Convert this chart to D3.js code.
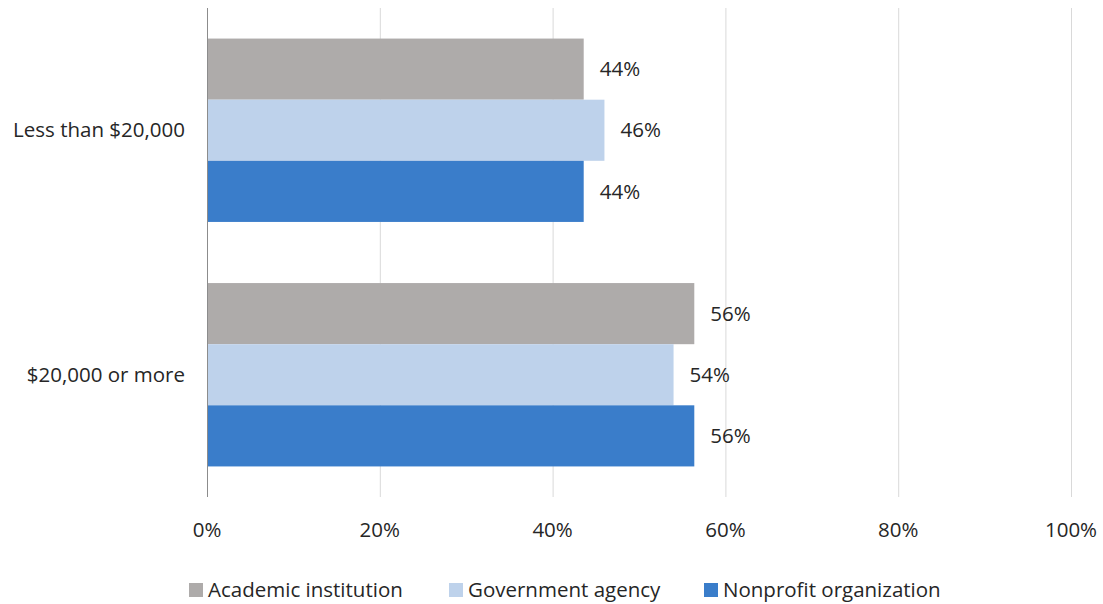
<!DOCTYPE html>
<html><head><meta charset="utf-8">
<script src="https://cdn.jsdelivr.net/npm/d3@7"></script>
<style>
html,body{margin:0;padding:0;background:#fff;}
svg{display:block;font-family:"Open Sans","Noto Sans",sans-serif;}
</style></head>
<body>
<svg id="chart" width="1103" height="604"></svg>
<script>
const categories = ["Less than $20,000", "$20,000 or more"];
const seriesNames = ["Academic institution", "Government agency", "Nonprofit organization"];
const academic = [43.6, 56.4];
const government = [46.0, 54.0];
const nonprofit = [43.6, 56.4];
const xTicks = [0, 20, 40, 60, 80, 100];
const colors = ["#AEABAA", "#BED2EB", "#3A7DCA"];

const seriesValues = [academic, government, nonprofit];
const svg = d3.select("#chart");
const x = d3.scaleLinear().domain([0, 100]).range([207, 1071]);
const y = d3.scaleBand().domain(categories).range([8, 497]).paddingInner(0.25).paddingOuter(0.125);
const ySub = d3.scaleBand().domain(seriesNames).range([0, y.bandwidth()]);
const textColor = "#262626";
const fs = 20.5;

// gridlines
svg.append("g").selectAll("line").data(xTicks.filter(d => d > 0)).join("line")
  .attr("x1", d => x(d) + 0.5).attr("x2", d => x(d) + 0.5)
  .attr("y1", 8).attr("y2", 497)
  .attr("stroke", "#D9D9D9").attr("stroke-width", 1);

// bars
const groups = svg.append("g").selectAll("g").data(categories).join("g")
  .attr("transform", d => `translate(0,${y(d)})`);
groups.each(function(cat, ci) {
  const g = d3.select(this);
  seriesNames.forEach((s, si) => {
    const v = seriesValues[si][ci];
    g.append("rect")
      .attr("x", x(0)).attr("y", ySub(s))
      .attr("width", x(v) - x(0)).attr("height", ySub.bandwidth())
      .attr("fill", colors[si]);
    g.append("text")
      .attr("x", x(v) + 16).attr("y", ySub(s) + ySub.bandwidth() / 2)
      .attr("dy", "0.35em")
      .attr("font-size", fs).attr("fill", textColor)
      .text(d3.format(".0%")(v / 100));
  });
});

// y axis line
svg.append("line").attr("x1", x(0) + 0.5).attr("x2", x(0) + 0.5)
  .attr("y1", 8).attr("y2", 497).attr("stroke", "#8C8C8C").attr("stroke-width", 1);

// category labels
svg.append("g").selectAll("text").data(categories).join("text")
  .attr("x", 185).attr("y", d => y(d) + y.bandwidth() / 2)
  .attr("dy", "0.35em").attr("text-anchor", "end")
  .attr("font-size", fs).attr("fill", textColor).text(d => d);

// x tick labels
svg.append("g").selectAll("text").data(xTicks).join("text")
  .attr("x", d => x(d)).attr("y", 530).attr("dy", "0.35em")
  .attr("text-anchor", "middle").attr("font-size", fs).attr("fill", textColor)
  .text(d => d + "%");

// legend
const legendX = [189, 449, 704];
const leg = svg.append("g").selectAll("g").data(seriesNames).join("g")
  .attr("transform", (d, i) => `translate(${legendX[i]},590)`);
leg.append("rect").attr("x", 0).attr("y", -7).attr("width", 14).attr("height", 14)
  .attr("fill", (d, i) => colors[i]);
leg.append("text").attr("x", 19).attr("y", 0).attr("dy", "0.35em")
  .attr("font-size", fs).attr("fill", textColor).text(d => d);
</script>
</body></html>
